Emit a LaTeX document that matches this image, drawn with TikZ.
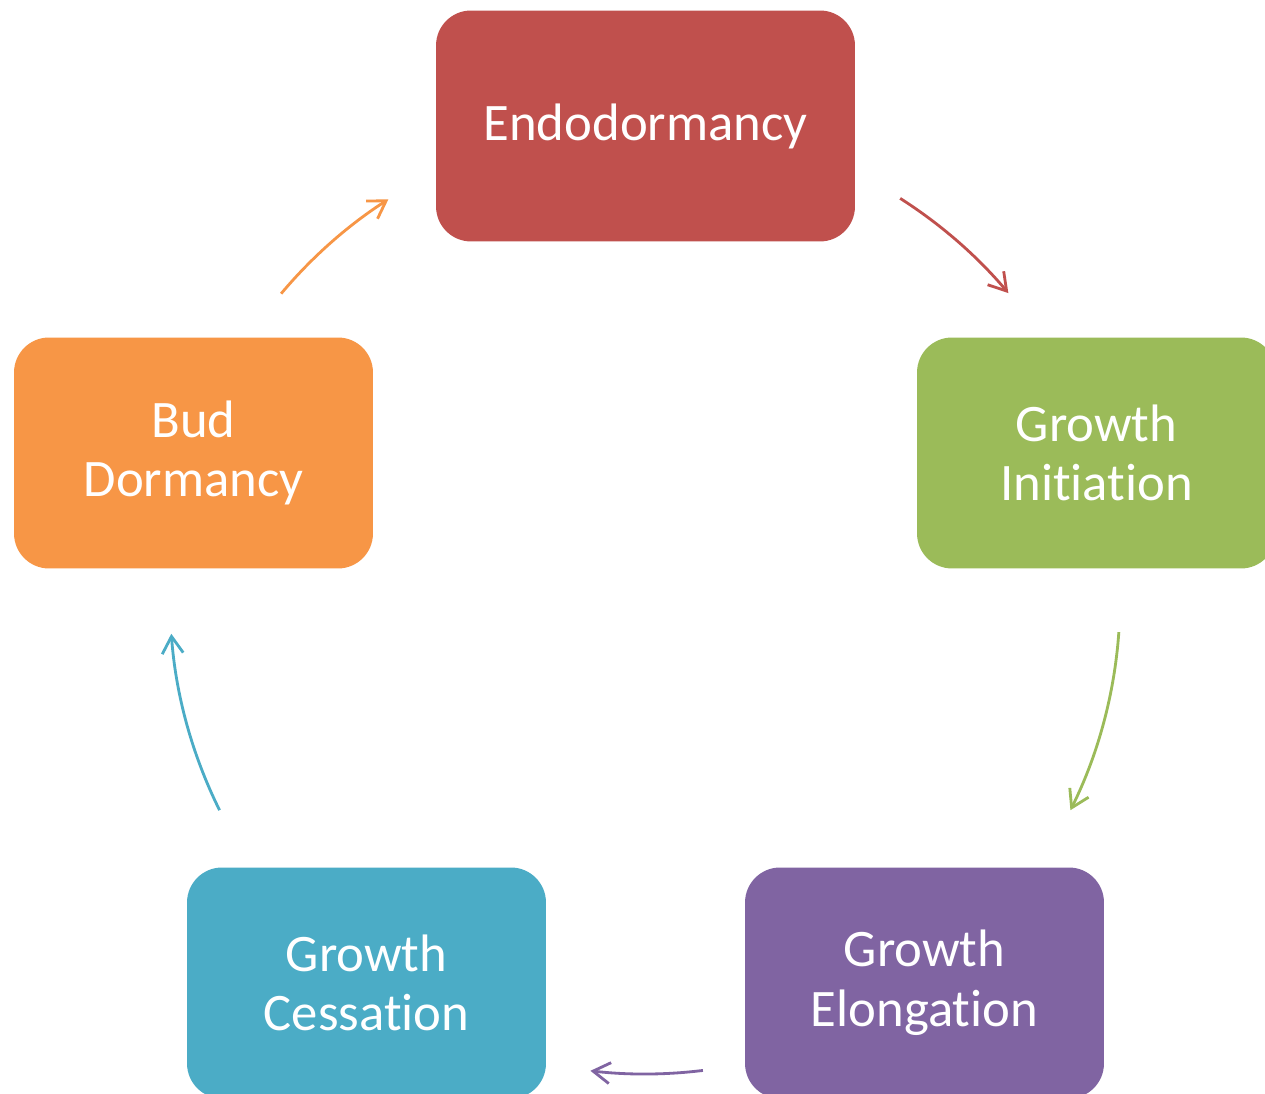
\documentclass[tikz,border=0pt]{standalone}
\usepackage{fontspec}
\setmainfont{Carlito}[Ligatures={NoCommon}]
\usetikzlibrary{arrows.meta}
\definecolor{endo}{HTML}{C0504D}
\definecolor{init}{HTML}{9BBB59}
\definecolor{elong}{HTML}{8064A2}
\definecolor{cess}{HTML}{4BACC6}
\definecolor{bud}{HTML}{F79646}
\tikzset{
  stage/.style={rectangle, rounded corners=0.7cm, fill=#1, text=white,
    minimum width=7.18cm, minimum height=4.62cm, align=center,
    font=\fontsize{30}{34}\selectfont, inner sep=0pt},
  cyc/.style={draw=#1, line width=1.6pt,
    -{Straight Barb[length=0.34cm, width=0.42cm, line width=1.6pt]}}
}
\begin{document}
\begin{tikzpicture}[x=0.02cm, y=0.02cm]
  \useasboundingbox (0,0) rectangle (1265,1094);
  \clip (0,0) rectangle (1265,1094);
  \fill[white] (0,0) rectangle (1265,1094);
  % the five stages of the cycle
  \node[stage=endo, minimum width=8.38cm] (endo) at (645.5,968) {Endodormancy};
  \node[stage=init]  (init)  at (1096.5,641) {Growth\\Initiation};
  \node[stage=elong] (elong) at (924.5,111)  {Growth\\Elongation};
  \node[stage=cess]  (cess)  at (366.5,111)  {Growth\\Cessation};
  \node[stage=bud]   (bud)   at (193.5,641)  {Bud\\Dormancy};
  % arcs of one circle joining the stages
  \coordinate (hub) at (645,495);
  \draw[cyc=endo]  (hub) ++(57.5:475)  arc[start angle=57.5,  end angle=40.1,  radius=475];
  \draw[cyc=init]  (hub) ++(-4:475)    arc[start angle=-4,    end angle=-26.4, radius=475];
  \draw[cyc=elong] (hub) ++(-83:475)   arc[start angle=-83,   end angle=-96.6, radius=475];
  \draw[cyc=cess]  (hub) ++(206.4:475) arc[start angle=206.4, end angle=184.2, radius=475];
  \draw[cyc=bud]   (hub) ++(140:475)   arc[start angle=140,   end angle=122.7, radius=475];
\end{tikzpicture}
\end{document}
